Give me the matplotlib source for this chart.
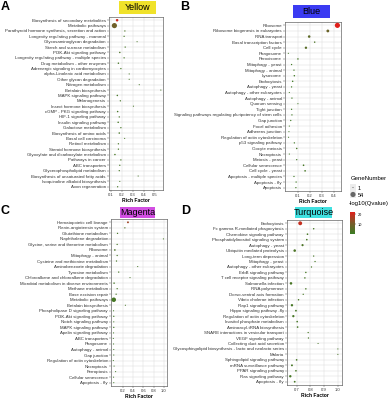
import numpy as np
import matplotlib
matplotlib.use("Agg")
import matplotlib.pyplot as plt
from matplotlib.colors import LinearSegmentedColormap, Normalize
from matplotlib.patches import Rectangle

plt.rcParams["font.family"] = ["Liberation Sans", "DejaVu Sans"]

# ---- panel A (Yellow) ----
a_terms = ["Biosynthesis of secondary metabolites", "Metabolic pathways",
           "Parathyroid hormone synthesis, secretion and action", "Longevity regulating pathway - mammal",
           "Glycosaminoglycan degradation", "Starch and sucrose metabolism", "PI3K-Akt signaling pathway",
           "Longevity regulating pathway - multiple species", "Drug metabolism - other enzymes",
           "Adrenergic signaling in cardiomyocytes", "alpha-Linolenic acid metabolism", "Other glycan degradation",
           "Nitrogen metabolism", "Betalain biosynthesis", "MAPK signaling pathway", "Melanogenesis",
           "Insect hormone biosynthesis", "cGMP - PKG signaling pathway", "HIF-1 signaling pathway",
           "Insulin signaling pathway", "Galactose metabolism", "Biosynthesis of amino acids",
           "Basal cell carcinoma", "Retinol metabolism", "Steroid hormone biosynthesis",
           "Glyoxylate and dicarboxylate metabolism", "Pathways in cancer", "ABC transporters",
           "Glycerophospholipid metabolism", "Biosynthesis of unsaturated fatty acids",
           "Isoquinoline alkaloid biosynthesis", "Axon regeneration"]
a_rich = [0.155, 0.13, 0.227, 0.22, 0.34, 0.23, 0.18, 0.22, 0.167, 0.19, 0.267, 0.267, 0.36, 0.56, 0.157,
          0.185, 0.306, 0.16, 0.175, 0.165, 0.19, 0.175, 0.225, 0.167, 0.167, 0.135, 0.19, 0.18, 0.175,
          0.35, 0.18, 0.16]
a_genes = [12, 54, 2, 2, 1, 2, 3, 2, 3, 2, 1, 1, 1, 1, 3, 2, 1, 3, 2, 3, 2, 3, 1, 2, 2, 3, 2, 2, 2, 1, 1, 2]
a_qval = [20, 9, 3, 2, 2, 2, 3, 2, 2, 2, 2, 2, 2, 2, 2, 2, 2, 2, 2, 2, 2, 2, 2, 2, 2, 2, 2, 2, 2, 2, 2, 2]

# ---- panel B (Blue) ----
b_terms = ["Ribosome", "Ribosome biogenesis in eukaryotes", "RNA transport", "Basal transcription factors",
           "Cell cycle", "Phagosome", "Peroxisome", "Mitophagy - yeast", "Mitophagy - animal", "Lysosome",
           "Endocytosis", "Autophagy - yeast", "Autophagy - other eukaryotes", "Autophagy - animal",
           "Quorum sensing", "Tight junction", "Signaling pathways regulating pluripotency of stem cells",
           "Gap junction", "Focal adhesion", "Adherens junction", "Regulation of actin cytoskeleton",
           "p53 signaling pathway", "Oocyte meiosis", "Necroptosis", "Meiosis - yeast", "Cellular senescence",
           "Cell cycle - yeast", "Apoptosis - multiple species", "Apoptosis - fly", "Apoptosis"]
b_rich = [0.43, 0.35, 0.194, 0.24, 0.167, 0.02, 0.10, 0.047, 0.067, 0.07, 0.056, 0.047, 0.028, 0.05,
          0.10, 0.047, 0.05, 0.04, 0.028, 0.025, 0.022, 0.07, 0.09, 0.028, 0.09, 0.147, 0.16, 0.067,
          0.085, 0.083]
b_genes = [54, 15, 12, 3, 10, 1, 3, 2, 2, 3, 3, 2, 1, 2, 1, 2, 2, 2, 1, 1, 1, 2, 3, 1, 2, 4, 4, 2, 2, 2]
b_qval = [22, 8, 6, 3, 5, 1, 2, 1, 1, 1, 1, 1, 1, 1, 1, 1, 1, 1, 1, 1, 1, 1, 2, 1, 1, 2, 2, 1, 1, 1]

# ---- panel C (Magenta) ----
c_terms = ["Hematopoietic cell lineage", "Renin-angiotensin system", "Glutathione metabolism",
           "Naphthalene degradation", "Glycine, serine and threonine metabolism", "Ribosome",
           "Mitophagy - animal", "Cysteine and methionine metabolism", "Aminobenzoate degradation",
           "Tyrosine metabolism", "Chloroalkane and chloroalkene degradation",
           "Microbial metabolism in diverse environments", "Methane metabolism", "Base excision repair",
           "Metabolic pathways", "Betalain biosynthesis", "Phospholipase D signaling pathway",
           "PI3K-Akt signaling pathway", "Notch signaling pathway", "MAPK signaling pathway",
           "Apelin signaling pathway", "ABC transporters", "Phagosome", "Autophagy - animal", "Gap junction",
           "Regulation of actin cytoskeleton", "Necroptosis", "Ferroptosis", "Cellular senescence",
           "Apoptosis - fly"]
c_rich = [0.30, 0.24, 0.097, 0.99, 0.09, 0.045, 0.09, 0.077, 0.49, 0.12, 0.34, 0.03, 0.09, 0.07,
          0.024, 0.25, 0.02, 0.024, 0.024, 0.024, 0.02, 0.015, 0.02, 0.024, 0.024, 0.015, 0.03, 0.06,
          0.02, 0.024]
c_genes = [6, 2, 2, 1, 2, 4, 2, 2, 1, 2, 1, 3, 2, 2, 40, 1, 1, 2, 1, 2, 1, 1, 1, 1, 1, 1, 1, 1, 1, 1]
c_qval = [15, 4, 2, 2, 2, 3, 2, 2, 2, 2, 2, 2, 2, 2, 2, 2, 1, 1, 1, 1, 1, 1, 1, 1, 1, 1, 1, 1, 1, 1]

# ---- panel D (Turquoise) ----
d_terms = ["Endocytosis", "Fc gamma R-mediated phagocytosis", "Chemokine signaling pathway",
           "Phosphatidylinositol signaling system", "Autophagy - yeast", "Ubiquitin mediated proteolysis",
           "Long-term depression", "Mitophagy - yeast", "Autophagy - other eukaryotes",
           "ErbB signaling pathway", "T cell receptor signaling pathway", "Salmonella infection",
           "RNA polymerase", "Dorso-ventral axis formation", "Vibrio cholerae infection",
           "Rap1 signaling pathway", "Hippo signaling pathway -fly", "Regulation of actin cytoskeleton",
           "Inositol phosphate metabolism", "Aminoacyl-tRNA biosynthesis",
           "SNARE interactions in vesicular transport", "VEGF signaling pathway",
           "Collecting duct acid secretion", "Glycosphingolipid biosynthesis - lacto and neolacto series",
           "Malaria", "Sphingolipid signaling pathway", "mRNA surveillance pathway",
           "PPAR signaling pathway", "Ras signaling pathway", "Apoptosis - fly"]
d_rich = [0.726, 0.824, 0.779, 0.774, 0.743, 0.686, 0.824, 0.834, 0.808, 0.767, 0.76, 0.659, 0.767,
          0.748, 0.714, 0.666, 0.695, 0.676, 0.704, 0.707, 0.784, 0.786, 0.856, 1.0, 1.0, 0.70, 0.666,
          0.695, 0.654, 0.686]
d_genes = [30, 3, 4, 4, 8, 12, 2, 2, 2, 3, 3, 12, 3, 2, 3, 10, 5, 9, 4, 4, 2, 2, 1, 1, 1, 4, 6, 4, 10, 5]
d_qval = [19, 2, 2, 2, 3, 3, 2, 2, 2, 2, 2, 2.5, 2, 2, 2, 2, 2, 2, 2, 2, 2, 2, 2, 2, 2, 2, 2, 2, 2, 2]

cmap = LinearSegmentedColormap.from_list("qv", ["#3a7d24", "#7c5a2a", "#e0201b"])
norm = Normalize(vmin=0, vmax=22)

W, H = 390, 400


def px_axes(fig, x0, x1, y0, y1):
    return fig.add_axes([x0 / W, 1 - y1 / H, (x1 - x0) / W, (y1 - y0) / H])


def size(g):
    return 0.4 + np.asarray(g) * 0.25


def dot_panel(ax, terms, rich, genes, qval, xlim, xticks, xticklabels):
    n = len(terms)
    y = np.arange(n)[::-1]
    ax.scatter(rich, y, s=size(genes), c=qval, cmap=cmap, norm=norm, linewidths=0, zorder=3)
    ax.set_ylim(-0.6, n - 0.4)
    ax.set_xlim(*xlim)
    ax.set_yticks(y)
    ax.set_yticklabels(terms, fontsize=3.2)
    ax.set_xticks(xticks)
    ax.set_xticklabels(xticklabels, fontsize=3.0)
    ax.grid(True, color="#dcdcdc", linewidth=0.35)
    ax.set_axisbelow(True)
    ax.tick_params(length=1.2, width=0.3, pad=1, colors="#444444")
    for lbl in ax.get_yticklabels() + ax.get_xticklabels():
        lbl.set_color("#333333")
    for sp in ax.spines.values():
        sp.set_linewidth(0.45)
        sp.set_color("#555555")
    ax.set_xlabel("Rich Factor", fontsize=3.6, fontweight="bold", labelpad=0.8)


def title_box(fig, x0, x1, y0, y1, text, color):
    fig.patches.append(Rectangle((x0 / W, 1 - y1 / H), (x1 - x0) / W, (y1 - y0) / H,
                                 transform=fig.transFigure, facecolor=color, edgecolor="none"))
    fig.text((x0 + x1) / 2 / W, 1 - (y0 + y1) / 2 / H, text, ha="center", va="center", fontsize=6.5)


fig = plt.figure(figsize=(3.9, 4.0), dpi=100)

axA = px_axes(fig, 109, 163, 17, 190)
dot_panel(axA, a_terms, a_rich, a_genes, a_qval, (0.08, 0.58), [0.1, 0.2, 0.3, 0.4, 0.5],
          ["0.1", "0.2", "0.3", "0.4", "0.5"])
axB = px_axes(fig, 285, 341, 22, 191)
dot_panel(axB, b_terms, b_rich, b_genes, b_qval, (-0.008, 0.46), [0.1, 0.2, 0.3, 0.4],
          ["0.1", "0.2", "0.3", "0.4"])
axC = px_axes(fig, 111, 167, 219, 386)
dot_panel(axC, c_terms, c_rich, c_genes, c_qval, (-0.03, 1.06), [0.2, 0.4, 0.6, 0.8, 1.0],
          ["0.2", "0.4", "0.6", "0.8", "1.0"])
axD = px_axes(fig, 287, 342, 220, 385)
dot_panel(axD, d_terms, d_rich, d_genes, d_qval, (0.63, 1.03), [0.7, 0.8, 0.9, 1.0],
          ["0.7", "0.8", "0.9", "1.0"])

title_box(fig, 119, 156, 1, 14, "Yellow", "#f0e22a")
title_box(fig, 293, 330, 5, 18, "Blue", "#3b3bf2")
title_box(fig, 120, 155, 207, 218, "Magenta", "#d24fe2")
title_box(fig, 295, 332, 207, 218, "Turquoise", "#40e0e0")

for letter, x, y in [("A", 5, 7), ("B", 185, 7), ("C", 5, 211), ("D", 186, 211)]:
    fig.text(x / W, 1 - y / H, letter, fontsize=9, fontweight="bold", ha="center", va="center")

# legend: GeneNumber
fig.text(351 / W, 1 - 178 / H, "GeneNumber", fontsize=4.3, va="center", ha="left")
lg = px_axes(fig, 350, 356, 184, 198)
lg.set_xlim(0, 1)
lg.set_ylim(0, 2)
lg.axis("off")
lg.add_patch(Rectangle((0, 1.05), 1, 0.9, facecolor="#ececec", edgecolor="none"))
lg.add_patch(Rectangle((0, 0.05), 1, 0.9, facecolor="#ececec", edgecolor="none"))
lg.scatter([0.5, 0.5], [1.5, 0.5], s=size([1, 54]), c="#666666", linewidths=0)
fig.text(358 / W, 1 - 188 / H, "1", fontsize=4.0, va="center")
fig.text(358 / W, 1 - 195 / H, "54", fontsize=4.0, va="center")

# legend: colour bar
fig.text(349 / W, 1 - 204 / H, "-log10(Qvalue)", fontsize=4.3, va="center", ha="left")
cax = px_axes(fig, 350, 355, 212, 234)
cb = fig.colorbar(plt.cm.ScalarMappable(norm=norm, cmap=cmap), cax=cax)
cb.set_ticks([10, 20])
cb.ax.tick_params(labelsize=2.8, length=1, width=0.3, pad=1)
cb.outline.set_visible(False)

fig.savefig("out.png", dpi=100)
